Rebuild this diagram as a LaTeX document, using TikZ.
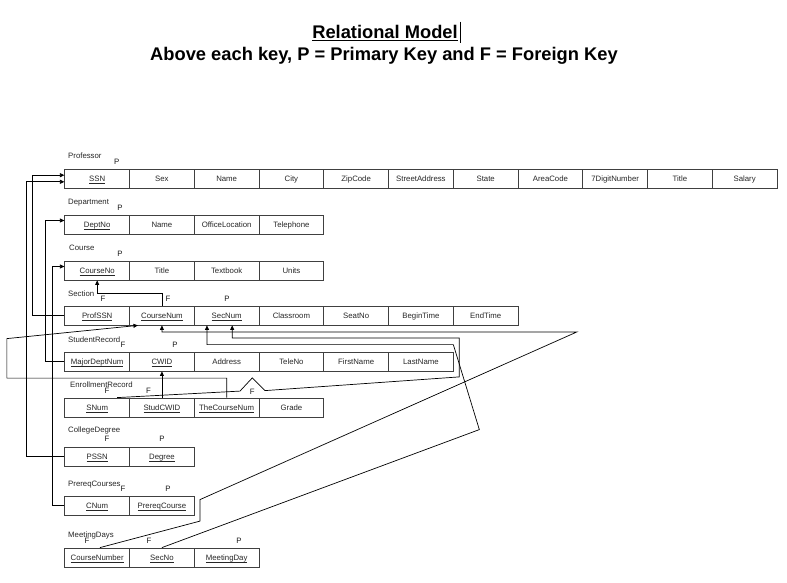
\documentclass[tikz,border=0pt]{standalone}
\usepackage{fontspec}
\setmainfont{Liberation Sans}
\usetikzlibrary{arrows.meta,calc}
\newcommand\keyu[1]{\setbox0=\hbox{#1}\rlap{\rule[-1.6pt]{\wd0}{0.45pt}}\box0}
\newcommand\titu[1]{\setbox0=\hbox{#1}\rlap{\rule[-2.9pt]{\wd0}{1.2pt}}\box0}
\newcommand\relrow[3]{%
  \foreach \lab [count=\i] in {#3} {
    \node[cell] (#1\i) at ({64.8+(\i-0.5)*64.75}, #2) {\lab};
  }}
\begin{document}
\begin{tikzpicture}[x=1pt,y=-1pt,
  cell/.style={draw=black!75, line width=0.8pt, minimum width=64.75pt, minimum height=19pt,
    inner sep=0pt, text height=5.8pt, text depth=0pt, font=\fontsize{7.8}{9}\selectfont, text=black!85},
  lbl/.style={anchor=west, inner sep=0pt, text height=5.8pt, text depth=0pt,
    font=\fontsize{7.8}{9}\selectfont, text=black!85},
  keymark/.style={inner sep=0pt, text height=5.8pt, text depth=0pt,
    font=\fontsize{7.8}{9}\selectfont, text=black!90},
  ttl/.style={anchor=base, inner sep=0pt, font=\fontsize{18.3}{22}\selectfont\bfseries},
  conn/.style={draw=black, line width=0.7pt},
  arr/.style={conn, -{Triangle[length=4.5pt,width=4pt]}}]
\useasboundingbox (0,0) rectangle (787,583);

% titles
\node[ttl] (title1) at (385,38.3) {\titu{Relational Model}};
\node[ttl] (title2) at (384,61) {Above each key, P = Primary Key and F = Foreign Key};
\draw[line width=0.9pt] (460.5,21.7) -- (460.5,43.3);

% tables
\relrow{prof}{178.5}{\keyu{SSN},Sex,Name,City,ZipCode,StreetAddress,State,AreaCode,7DigitNumber,Title,Salary}
\relrow{dept}{224.5}{\keyu{DeptNo},Name,OfficeLocation,Telephone}
\relrow{course}{270.5}{\keyu{CourseNo},Title,Textbook,Units}
\relrow{sec}{315.5}{\keyu{ProfSSN},\keyu{CourseNum},\keyu{SecNum},Classroom,SeatNo,BeginTime,EndTime}
\relrow{sr}{361.5}{\keyu{MajorDeptNum},\keyu{CWID},Address,TeleNo,FirstName,LastName}
\relrow{er}{407.5}{\keyu{SNum},\keyu{StudCWID},\keyu{TheCourseNum},Grade}
\relrow{cd}{456.5}{\keyu{PSSN},\keyu{Degree}}
\relrow{pc}{505.5}{\keyu{CNum},\keyu{PrereqCourse}}
\relrow{md}{557.5}{\keyu{CourseNumber},\keyu{SecNo},\keyu{MeetingDay}}

% table names
\node[lbl] (lprof) at (68,155.7) {Professor};
\node[lbl] (ldept) at (68,201.7) {Department};
\node[lbl] (lcourse) at (69,247.3) {Course};
\node[lbl] (lsec) at (68,293.3) {Section};
\node[lbl] (lsr) at (68,339.3) {StudentRecord};
\node[lbl] (ler) at (70,385) {EnrollmentRecord};
\node[lbl] (lcd) at (68,430) {CollegeDegree};
\node[lbl] (lpc) at (68,483.3) {PrereqCourses};
\node[lbl] (lmd) at (68,535) {MeetingDays};

% key markers
\node[keymark] (kprof1) at (116.7,161.7) {P};
\node[keymark] (kdept1) at (120,208) {P};
\node[keymark] (kcourse1) at (120,254) {P};
\node[keymark] (ksec1) at (103,299) {F};
\node[keymark] (ksec2) at (168,299) {F};
\node[keymark] (ksec3) at (227,299) {P};
\node[keymark] (ksr1) at (123,345) {F};
\node[keymark] (ksr2) at (175,345) {P};
\node[keymark] (ker1) at (107,391) {F};
\node[keymark] (ker2) at (148.5,391) {F};
\node[keymark] (ker3) at (252.3,392) {F};
\node[keymark] (kcd1) at (107,439) {F};
\node[keymark] (kcd2) at (162,439) {P};
\node[keymark] (kpc1) at (123,489) {F};
\node[keymark] (kpc2) at (168,489) {P};
\node[keymark] (kmd1) at (87,541) {F};
\node[keymark] (kmd2) at (149,541) {F};
\node[keymark] (kmd3) at (239,541) {P};

% connectors
\draw[arr] (sec1.west) -- ++(-31.8,0) |- ([yshift=3.3pt]prof1.west);
\draw[arr] (cd1.west) -- ++(-37.8,0) |- ([yshift=-3.3pt]prof1.west);
\draw[arr] (sr1.west) -- ++(-18.8,0) |- ([yshift=4pt]dept1.west);
\draw[arr] (pc1.west) -- ++(-11.8,0) |- ([yshift=4pt]course1.west);
\draw[arr] (sec2.north) -- ++(0,-12.5) -| (course1.south);
\draw[arr] (er2.north) -- (sr2.south);
\draw[arr] (er3.north) -- ++(0,-19.5) -- ++(-219.8,0) -- ++(0,-39.5) -- ([xshift=-24pt]sec2.south);
\draw[arr] ([xshift=20pt]er1.north) -- ++(122.8,-6.5) -- ++(12.3,-13.2) -- ++(12.7,12.7)
  -- ++(194.3,-13.7) -- ++(0,-39) -| ([xshift=5.5pt]sec3.south);
\draw[arr] (md2.north) -- ++(317.4,-118) -- ++(-26,-85) -| ([xshift=-19.7pt]sec3.south);
\draw[arr] ([xshift=2.8pt]md1.north) -- ++(100,-26.5) -- ++(0,-21.5) -- ++(377,-167.7) -| (sec2.south);
\end{tikzpicture}
\end{document}
